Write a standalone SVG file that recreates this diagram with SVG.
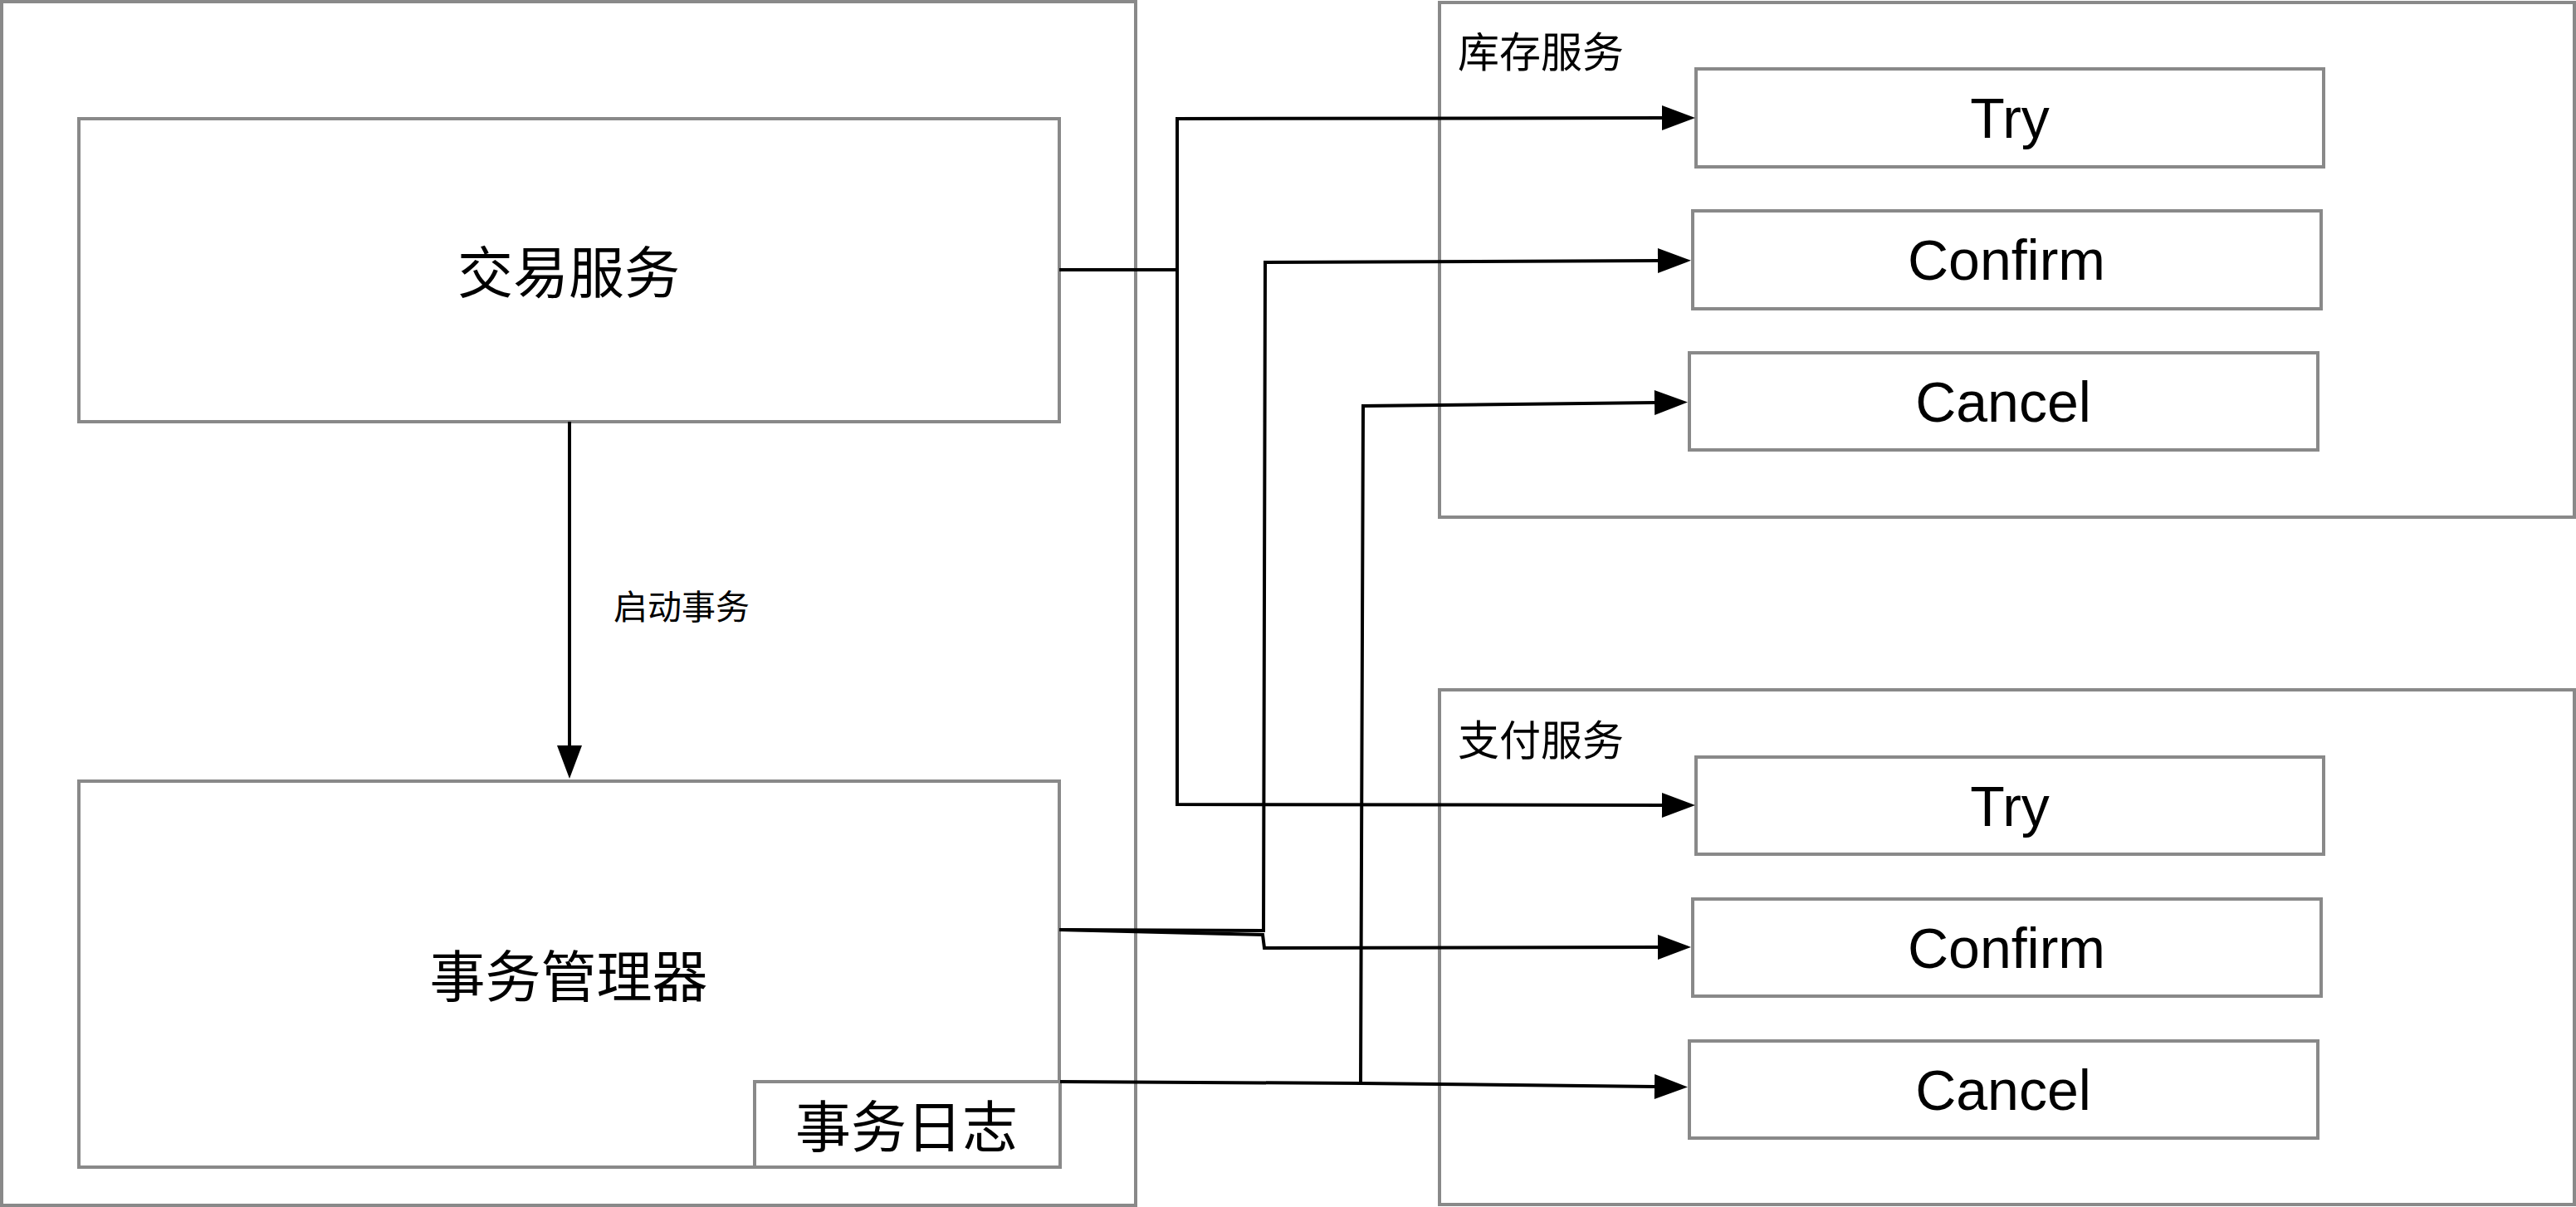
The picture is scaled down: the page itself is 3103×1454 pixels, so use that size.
<svg xmlns="http://www.w3.org/2000/svg" width="3103" height="1454" viewBox="0 0 3103 1454">
  <style>
    .box { fill: #ffffff; stroke: #898989; stroke-width: 4; }
    .frame { fill: none; stroke: #898989; stroke-width: 4; }
    .conn { fill: none; stroke: #000000; stroke-width: 4; stroke-linejoin: miter; }
    .big { font-family: "Noto Sans CJK SC", "Liberation Sans", sans-serif; font-size: 67px; fill: #000000; text-anchor: middle; }
    .lat { font-family: "Liberation Sans", Arial, sans-serif; font-size: 68px; fill: #000000; text-anchor: middle; }
    .title { font-family: "Noto Sans CJK SC", sans-serif; font-size: 50px; fill: #000000; }
    .lbl { font-family: "Noto Sans CJK SC", sans-serif; font-size: 41px; fill: #000000; }
  </style>
  <defs>
    <marker id="arr" markerUnits="userSpaceOnUse" markerWidth="40" markerHeight="30" viewBox="0 0 40 30" refX="0" refY="15" orient="auto" overflow="visible">
      <path d="M0,0 L40,15 L0,30 z" fill="#000000"/>
    </marker>
  </defs>
  <rect x="0" y="0" width="3103" height="1454" fill="#ffffff"/>

  <g id="trade-domain">
    <rect class="frame" x="2" y="2" width="1366" height="1450"/>
  </g>
  <g id="inventory-service">
    <rect class="frame" x="1734" y="3" width="1367" height="620"/>
    <text class="title" x="1756" y="81">库存服务</text>
  </g>
  <g id="payment-service">
    <rect class="frame" x="1734" y="831" width="1367" height="620"/>
    <text class="title" x="1756" y="910">支付服务</text>
  </g>

  <g id="trade-service">
    <rect class="box" x="95" y="143" width="1181" height="365"/>
    <text class="big" x="685" y="353">交易服务</text>
  </g>
  <g id="tx-manager">
    <rect class="box" x="95" y="941" width="1181" height="465"/>
    <text class="big" x="685" y="1201">事务管理器</text>
  </g>
  <g id="tx-log">
    <rect class="box" x="909" y="1303" width="368" height="103"/>
    <text class="big" x="1092" y="1382">事务日志</text>
  </g>

  <g id="inv-try">
    <rect class="box" x="2043" y="83" width="756" height="118"/>
    <text class="lat" x="2421" y="166">Try</text>
  </g>
  <g id="inv-confirm">
    <rect class="box" x="2039" y="254" width="757" height="118"/>
    <text class="lat" x="2417" y="337">Confirm</text>
  </g>
  <g id="inv-cancel">
    <rect class="box" x="2035" y="425" width="757" height="117"/>
    <text class="lat" x="2413" y="508">Cancel</text>
  </g>

  <g id="pay-try">
    <rect class="box" x="2043" y="912" width="756" height="117"/>
    <text class="lat" x="2421" y="995">Try</text>
  </g>
  <g id="pay-confirm">
    <rect class="box" x="2039" y="1083" width="757" height="117"/>
    <text class="lat" x="2417" y="1166">Confirm</text>
  </g>
  <g id="pay-cancel">
    <rect class="box" x="2035" y="1254" width="757" height="117"/>
    <text class="lat" x="2413" y="1337">Cancel</text>
  </g>

  <g id="connectors">
    <path class="conn" d="M686,508 V898" marker-end="url(#arr)"/>
    <text class="lbl" x="739" y="746">启动事务</text>
    <path class="conn" d="M1276,325 H1418 V143 L2002,142" marker-end="url(#arr)"/>
    <path class="conn" d="M1418,325 V969 L2002,970" marker-end="url(#arr)"/>
    <path class="conn" d="M1276,1120 L1522,1121 L1524,316 L1997,314" marker-end="url(#arr)"/>
    <path class="conn" d="M1276,1120 L1521,1126 L1523,1142 L1997,1141" marker-end="url(#arr)"/>
    <path class="conn" d="M1277,1303 L1639,1305 L1642,489 L1993,485" marker-end="url(#arr)"/>
    <path class="conn" d="M1639,1305 L1993,1309" marker-end="url(#arr)"/>
  </g>
</svg>
